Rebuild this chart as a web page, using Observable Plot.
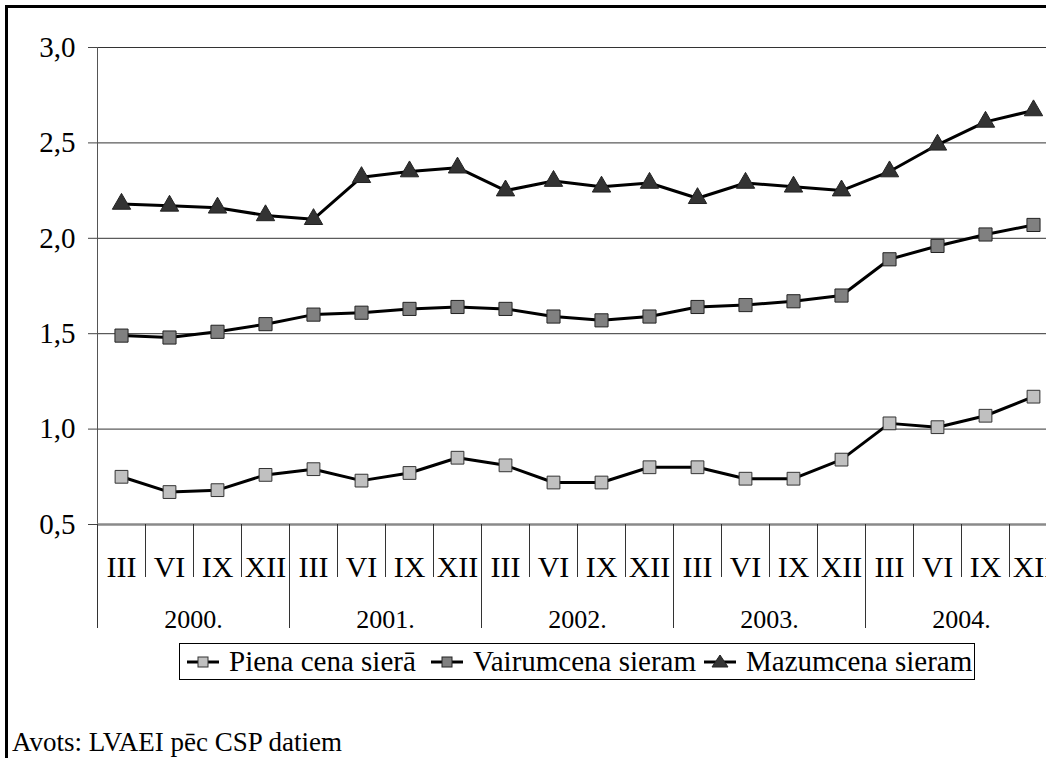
<!DOCTYPE html>
<html>
<head>
<meta charset="utf-8">
<script src="https://cdn.jsdelivr.net/npm/d3@7"></script>
<script src="https://cdn.jsdelivr.net/npm/@observablehq/plot@0.6"></script>
<style>
  html, body { margin: 0; padding: 0; background: #fff; }
  #wrap { position: relative; width: 1046px; height: 758px; overflow: hidden; background: #fff;
          font-family: "Liberation Serif", "Times New Roman", serif; color: #000; }
  #frame { position: absolute; left: 5px; top: 5px; width: 2000px; height: 2000px;
           border-left: 3px solid #000; border-top: 3px solid #000; }
  #chart { position: absolute; left: 0; top: 0; width: 1060px; }
  #chart svg { max-width: none !important; }
  #chart svg, #chart svg text { font-family: "Liberation Serif", "Times New Roman", serif !important; }
  #legend { position: absolute; left: 179px; top: 643px; width: 794px; height: 35px;
            border: 1px solid #000; background: #fff; font-size: 29px; }
  .item { position: absolute; top: 0; height: 35px; display: flex; align-items: center; white-space: nowrap; }
  .item svg { margin-right: 10px; }
  #source { position: absolute; left: 12px; top: 727px; font-size: 27px; white-space: nowrap; }
</style>
</head>
<body>
<div id="wrap">
  <div id="frame"></div>
  <div id="chart"></div>
  <div id="legend"></div>
  <div id="source">Avots: LVAEI pēc CSP datiem</div>
</div>
<script>
// ---- data ----
const years = ["2000.", "2001.", "2002.", "2003.", "2004."];
const quarters = ["III", "VI", "IX", "XII"];
const seriesNames = ["Piena cena sierā", "Vairumcena sieram", "Mazumcena sieram"];
const piena  = [0.75, 0.67, 0.68, 0.76, 0.79, 0.73, 0.77, 0.85, 0.81, 0.72, 0.72, 0.80, 0.80, 0.74, 0.74, 0.84, 1.03, 1.01, 1.07, 1.17];
const vairum = [1.49, 1.48, 1.51, 1.55, 1.60, 1.61, 1.63, 1.64, 1.63, 1.59, 1.57, 1.59, 1.64, 1.65, 1.67, 1.70, 1.89, 1.96, 2.02, 2.07];
const mazum  = [2.18, 2.17, 2.16, 2.12, 2.10, 2.32, 2.35, 2.37, 2.25, 2.30, 2.27, 2.29, 2.21, 2.29, 2.27, 2.25, 2.35, 2.49, 2.61, 2.67];
const yTicks = [0.5, 1.0, 1.5, 2.0, 2.5, 3.0];

// ---- build table ----
const categories = years.flatMap(y => quarters.map(q => ({year: y, q})));
const nCat = categories.length;
const rows = [];
[piena, vairum, mazum].forEach((arr, s) => arr.forEach((v, i) => rows.push({series: seriesNames[s], i, v})));
const styles = {
  [seriesNames[0]]: {symbol: "square", fill: "#c0c0c0", stroke: "#333", r: 7.2},
  [seriesNames[1]]: {symbol: "square", fill: "#808080", stroke: "#222", r: 7.4},
  [seriesNames[2]]: {symbol: "triangle", fill: "#333333", stroke: "#222", r: 6.8}
};
const fmt = d => d3.format(".1f")(d).replace(".", ",");
const cx = d => d.i + 0.5;

const marks = [
  Plot.gridY(yTicks, {stroke: "#333", strokeOpacity: 1, strokeWidth: 1}),
  Plot.ruleX([0], {stroke: "#555", strokeWidth: 1}),
  Plot.ruleY([0.5], {stroke: "#8a8a8a", strokeWidth: 2.5}),
  Plot.axisY({ticks: yTicks, tickSize: 9, tickPadding: 13, tickFormat: fmt, fontSize: 29, stroke: "#444", label: null}),
  // category separators
  Plot.axisX({ticks: d3.range(0, nCat), tickSize: 53, tickFormat: () => "", stroke: "#333", label: null}),
  Plot.axisX({ticks: d3.range(0, nCat + 1, quarters.length), tickSize: 104, tickFormat: () => "", stroke: "#333", label: null}),
  // quarter labels
  Plot.axisX({ticks: d3.range(nCat).map(i => i + 0.5), tickSize: 0, tickPadding: 31,
              tickFormat: d => categories[Math.floor(d)].q, fontSize: 30, label: null}),
  // year labels
  Plot.axisX({ticks: years.map((_, k) => k * quarters.length + quarters.length / 2), tickSize: 0, tickPadding: 85,
              tickFormat: d => years[Math.floor(d / quarters.length)], fontSize: 26, label: null})
];
seriesNames.forEach(name => {
  const data = rows.filter(r => r.series === name);
  const st = styles[name];
  marks.push(Plot.line(data, {x: cx, y: "v", stroke: "#000", strokeWidth: 3}));
  marks.push(Plot.dot(data, {x: cx, y: "v", symbol: st.symbol, r: st.r, fill: st.fill, stroke: st.stroke, strokeWidth: 1}));
});

const chart = Plot.plot({
  width: 1060,
  height: 640,
  marginLeft: 97,
  marginRight: 3,
  marginTop: 47,
  marginBottom: 116,
  x: {domain: [0, nCat], axis: null},
  y: {domain: [0.5, 3.0], axis: null},
  style: {fontFamily: "'Liberation Serif', 'Times New Roman', serif", fontSize: "29px", color: "#000", background: "transparent", overflow: "visible", maxWidth: "none"},
  marks
});
document.getElementById("chart").appendChild(chart);

// ---- legend ----
const legend = document.getElementById("legend");
const itemLeft = [7, 251, 524];
seriesNames.forEach((name, k) => {
  const st = styles[name];
  const marker = st.symbol === "square"
    ? `<rect x="11" y="5" width="10" height="10" fill="${st.fill}" stroke="${st.stroke}" stroke-width="1"/>`
    : `<polygon points="16,3 24,15 8,15" fill="${st.fill}" stroke="${st.stroke}" stroke-width="1"/>`;
  const div = document.createElement("div");
  div.className = "item";
  div.style.left = itemLeft[k] + "px";
  div.innerHTML = `<svg width="32" height="20"><line x1="0" y1="10" x2="32" y2="10" stroke="#000" stroke-width="3"/>${marker}</svg><span>${name}</span>`;
  legend.appendChild(div);
});
</script>
</body>
</html>
